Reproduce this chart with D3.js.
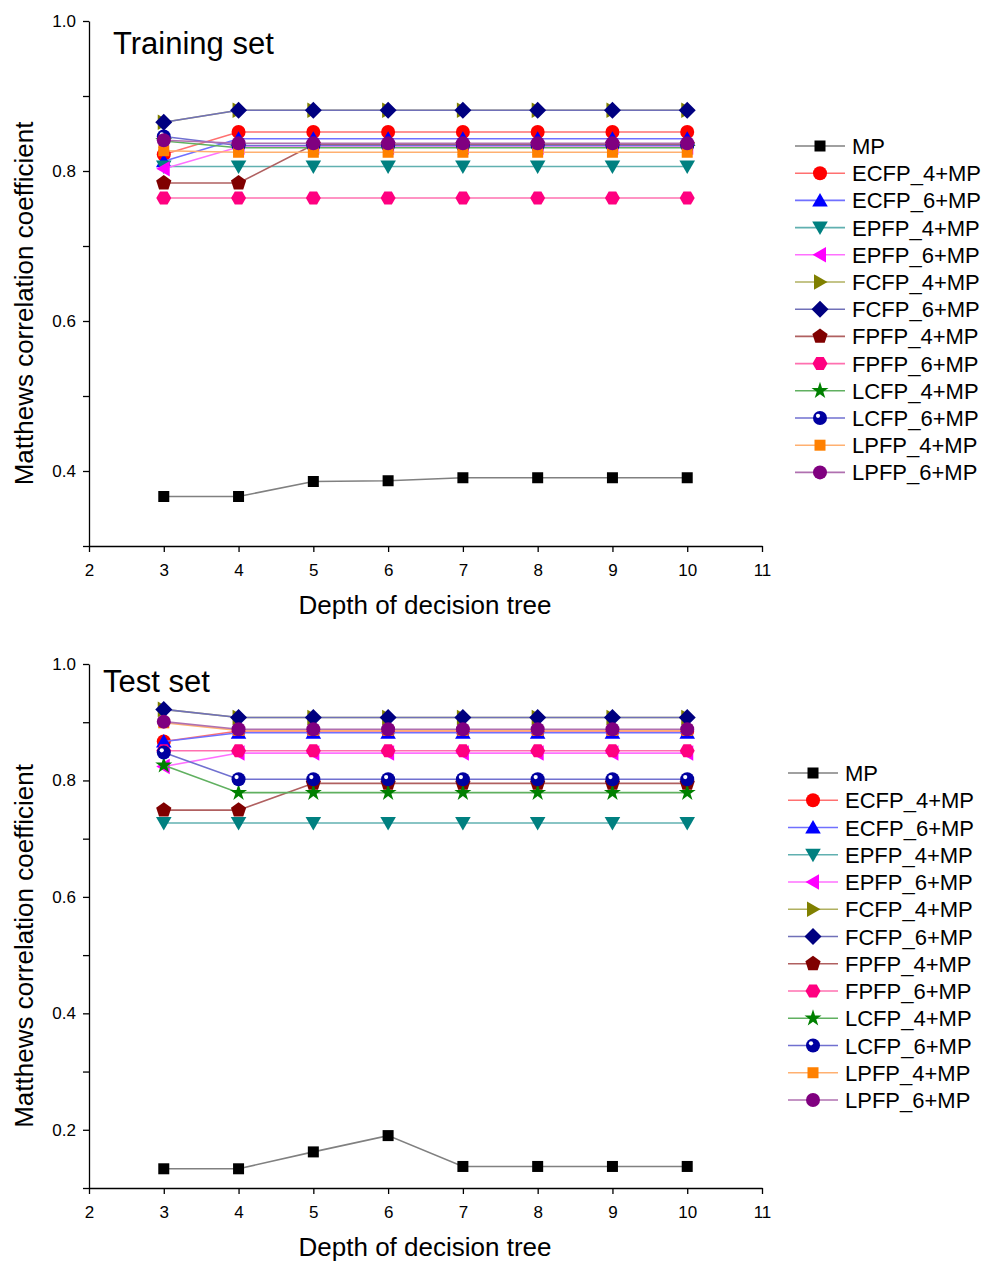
<!DOCTYPE html>
<html><head><meta charset="utf-8">
<script src="https://cdn.jsdelivr.net/npm/d3@7"></script>
<style>body{margin:0;background:#fff}svg{display:block}text{font-family:"Liberation Sans",Arial,sans-serif;fill:#000}</style>
</head><body>
<script>
const depths = [3,4,5,6,7,8,9,10];
const seriesNames = ["MP","ECFP_4+MP","ECFP_6+MP","EPFP_4+MP","EPFP_6+MP","FCFP_4+MP","FCFP_6+MP","FPFP_4+MP","FPFP_6+MP","LCFP_4+MP","LCFP_6+MP","LPFP_4+MP","LPFP_6+MP"];
const colors = ["#000000","#ff0000","#0000ff","#008080","#ff00ff","#808000","#000080","#800000","#ff0080","#008000","#0000a0","#ff8000","#800080"];
const lineColors = ["#808080","#ff7070","#7070ff","#60b0b0","#ff70ff","#b0b060","#7070b8","#b06060","#ff70b0","#60b060","#7070d0","#ffb070","#b070b0"];
const shapes = ["square","circle","triUp","triDown","triLeft","triRight","diamond","pentagon","hexagon","star","ball","square","circle"];

const xTicks = [2,3,4,5,6,7,8,9,10,11];
const trainYTicks = [0.4,0.6,0.8,1.0];
const testYTicks = [0.2,0.4,0.6,0.8,1.0];

// Training set values
const trainMP      = [0.366,0.366,0.386,0.387,0.391,0.391,0.391,0.391];
const trainECFP4   = [0.822,0.852,0.852,0.852,0.852,0.852,0.852,0.852];
const trainECFP6   = [0.813,0.843,0.843,0.843,0.843,0.843,0.843,0.843];
const trainEPFP4   = [0.806,0.806,0.806,0.806,0.806,0.806,0.806,0.806];
const trainEPFP6   = [0.803,0.832,0.832,0.832,0.832,0.832,0.832,0.832];
const trainFCFP4   = [0.865,0.881,0.881,0.881,0.881,0.881,0.881,0.881];
const trainFCFP6   = [0.865,0.881,0.881,0.881,0.881,0.881,0.881,0.881];
const trainFPFP4   = [0.784,0.784,0.835,0.835,0.835,0.835,0.835,0.835];
const trainFPFP6   = [0.764,0.764,0.764,0.764,0.764,0.764,0.764,0.764];
const trainLCFP4   = [0.840,0.831,0.831,0.831,0.831,0.831,0.831,0.831];
const trainLCFP6   = [0.846,0.834,0.834,0.834,0.834,0.834,0.834,0.834];
const trainLPFP4   = [0.827,0.825,0.825,0.825,0.825,0.825,0.825,0.825];
const trainLPFP6   = [0.841,0.837,0.837,0.837,0.837,0.837,0.837,0.837];

// Test set values
const testMP      = [0.133,0.133,0.162,0.190,0.137,0.137,0.137,0.137];
const testECFP4   = [0.867,0.885,0.885,0.885,0.885,0.885,0.885,0.885];
const testECFP6   = [0.867,0.882,0.882,0.882,0.882,0.882,0.882,0.882];
const testEPFP4   = [0.727,0.727,0.727,0.727,0.727,0.727,0.727,0.727];
const testEPFP6   = [0.824,0.847,0.847,0.847,0.847,0.847,0.847,0.847];
const testFCFP4   = [0.922,0.908,0.908,0.908,0.908,0.908,0.908,0.908];
const testFCFP6   = [0.922,0.908,0.908,0.908,0.908,0.908,0.908,0.908];
const testFPFP4   = [0.749,0.749,0.795,0.795,0.795,0.795,0.795,0.795];
const testFPFP6   = [0.851,0.851,0.851,0.851,0.851,0.851,0.851,0.851];
const testLCFP4   = [0.826,0.779,0.779,0.779,0.779,0.779,0.779,0.779];
const testLCFP6   = [0.848,0.802,0.802,0.802,0.802,0.802,0.802,0.802];
const testLPFP4   = [0.899,0.886,0.886,0.886,0.886,0.886,0.886,0.886];
const testLPFP6   = [0.901,0.888,0.888,0.888,0.888,0.888,0.888,0.888];

const trainSeries = [trainMP,trainECFP4,trainECFP6,trainEPFP4,trainEPFP6,trainFCFP4,trainFCFP6,trainFPFP4,trainFPFP6,trainLCFP4,trainLCFP6,trainLPFP4,trainLPFP6];
const testSeries = [testMP,testECFP4,testECFP6,testEPFP4,testEPFP6,testFCFP4,testFCFP6,testFPFP4,testFPFP6,testLCFP4,testLCFP6,testLPFP4,testLPFP6];

const svg = d3.select("body").append("svg").attr("width",983).attr("height",1261);

function polyPath(n, r, rot){
  const pts=[];
  for(let i=0;i<n;i++){const a=rot+i*2*Math.PI/n;pts.push([r*Math.cos(a),r*Math.sin(a)]);}
  return "M"+pts.map(p=>p[0].toFixed(2)+","+p[1].toFixed(2)).join("L")+"Z";
}
function drawMarker(g, shape, color, x, y){
  const m = g.append("g").attr("transform",`translate(${x},${y})`);
  switch(shape){
    case "square": m.append("rect").attr("x",-5.5).attr("y",-5.5).attr("width",11).attr("height",11).attr("fill",color); break;
    case "circle": m.append("circle").attr("r",7).attr("fill",color); break;
    case "ball": m.append("circle").attr("r",7).attr("fill",color);
                 m.append("circle").attr("cx",-2).attr("cy",-2.2).attr("r",2.1).attr("fill","#fff"); break;
    case "triUp": m.append("path").attr("d",polyPath(3,9,-Math.PI/2)).attr("transform","translate(0,1.5)").attr("fill",color); break;
    case "triDown": m.append("path").attr("d",polyPath(3,9,Math.PI/2)).attr("transform","translate(0,-1.5)").attr("fill",color); break;
    case "triLeft": m.append("path").attr("d",polyPath(3,9,Math.PI)).attr("transform","translate(1.5,0)").attr("fill",color); break;
    case "triRight": m.append("path").attr("d",polyPath(3,9,0)).attr("transform","translate(-1.5,0)").attr("fill",color); break;
    case "diamond": m.append("path").attr("d",polyPath(4,8.5,0)).attr("fill",color); break;
    case "pentagon": m.append("path").attr("d",polyPath(5,8,-Math.PI/2)).attr("fill",color); break;
    case "hexagon": m.append("path").attr("d",polyPath(6,7.5,0)).attr("fill",color); break;
    case "star": m.append("path").attr("d",d3.symbol(d3.symbolStar,90)()).attr("fill",color); break;
  }
}

function panel(cfg){
  const x = d3.scaleLinear().domain([2,11]).range([89,762]);
  const y = d3.scaleLinear().domain(cfg.yDomain).range([cfg.bottom, cfg.top]);
  const g = svg.append("g");
  const xa = g.append("g").attr("transform",`translate(0,${cfg.bottom})`)
    .call(d3.axisBottom(x).tickValues(xTicks).tickFormat(d3.format("d")).tickSize(6).tickSizeOuter(0));
  xa.select(".domain").attr("stroke","#000").attr("stroke-width",1.3);
  xa.selectAll(".tick line").attr("stroke-width",1.3);
  xa.selectAll(".tick text").attr("font-size",17).attr("y",30).attr("dy",0).attr("font-family","Liberation Sans, Arial");
  const minor = [];
  for(let v=cfg.yDomain[0]; v<cfg.yDomain[1]-1e-9; v+=0.2) minor.push(+v.toFixed(2));
  g.append("g").attr("transform","translate(89,0)")
    .call(d3.axisLeft(y).tickValues(minor).tickFormat("").tickSize(6).tickSizeOuter(0))
    .call(a=>{a.select(".domain").remove();a.selectAll("line").attr("stroke-width",1.3);});
  const ya = g.append("g").attr("transform","translate(89,0)")
    .call(d3.axisLeft(y).tickValues(cfg.yTicks).tickFormat(d3.format(".1f")).tickSize(6).tickSizeOuter(0));
  ya.select(".domain").attr("stroke-width",1.3);
  ya.selectAll(".tick line").attr("stroke-width",1.3);
  ya.selectAll(".tick text").attr("font-size",17).attr("font-family","Liberation Sans, Arial").attr("x",-13);
  g.append("text").attr("x",cfg.titleX).attr("y",cfg.titleY).attr("font-size",31).text(cfg.title);
  g.append("text").attr("x",425).attr("y",cfg.bottom+68).attr("text-anchor","middle").attr("font-size",26).text("Depth of decision tree");
  g.append("text").attr("transform",`translate(33,${(cfg.top+cfg.bottom)/2+20}) rotate(-90)`).attr("text-anchor","middle").attr("font-size",26).text("Matthews correlation coefficient");
  const line = d3.line().x((d,i)=>x(depths[i])).y(d=>y(d));
  cfg.series.forEach((vals,si)=>{
    g.append("path").attr("d",line(vals)).attr("fill","none").attr("stroke",lineColors[si]).attr("stroke-width",1.6);
    vals.forEach((v,i)=>drawMarker(g,shapes[si],colors[si],x(depths[i]),y(v)));
  });
  const lg = g.append("g");
  seriesNames.forEach((nm,i)=>{
    const ly = cfg.legY + i*cfg.legStep;
    lg.append("line").attr("x1",cfg.legX).attr("x2",cfg.legX+50).attr("y1",ly).attr("y2",ly).attr("stroke",lineColors[i]).attr("stroke-width",1.6);
    drawMarker(lg,shapes[i],colors[i],cfg.legX+25,ly);
    lg.append("text").attr("x",cfg.legX+57).attr("y",ly+8).attr("font-size",22).text(nm);
  });
}

panel({title:"Training set",titleX:113,titleY:54,top:21,bottom:546,yDomain:[0.3,1.0],yTicks:trainYTicks,series:trainSeries,legX:795,legY:146,legStep:27.2});
panel({title:"Test set",titleX:103,titleY:692,top:664,bottom:1188,yDomain:[0.1,1.0],yTicks:testYTicks,series:testSeries,legX:788,legY:773,legStep:27.25});
</script>
</body></html>
